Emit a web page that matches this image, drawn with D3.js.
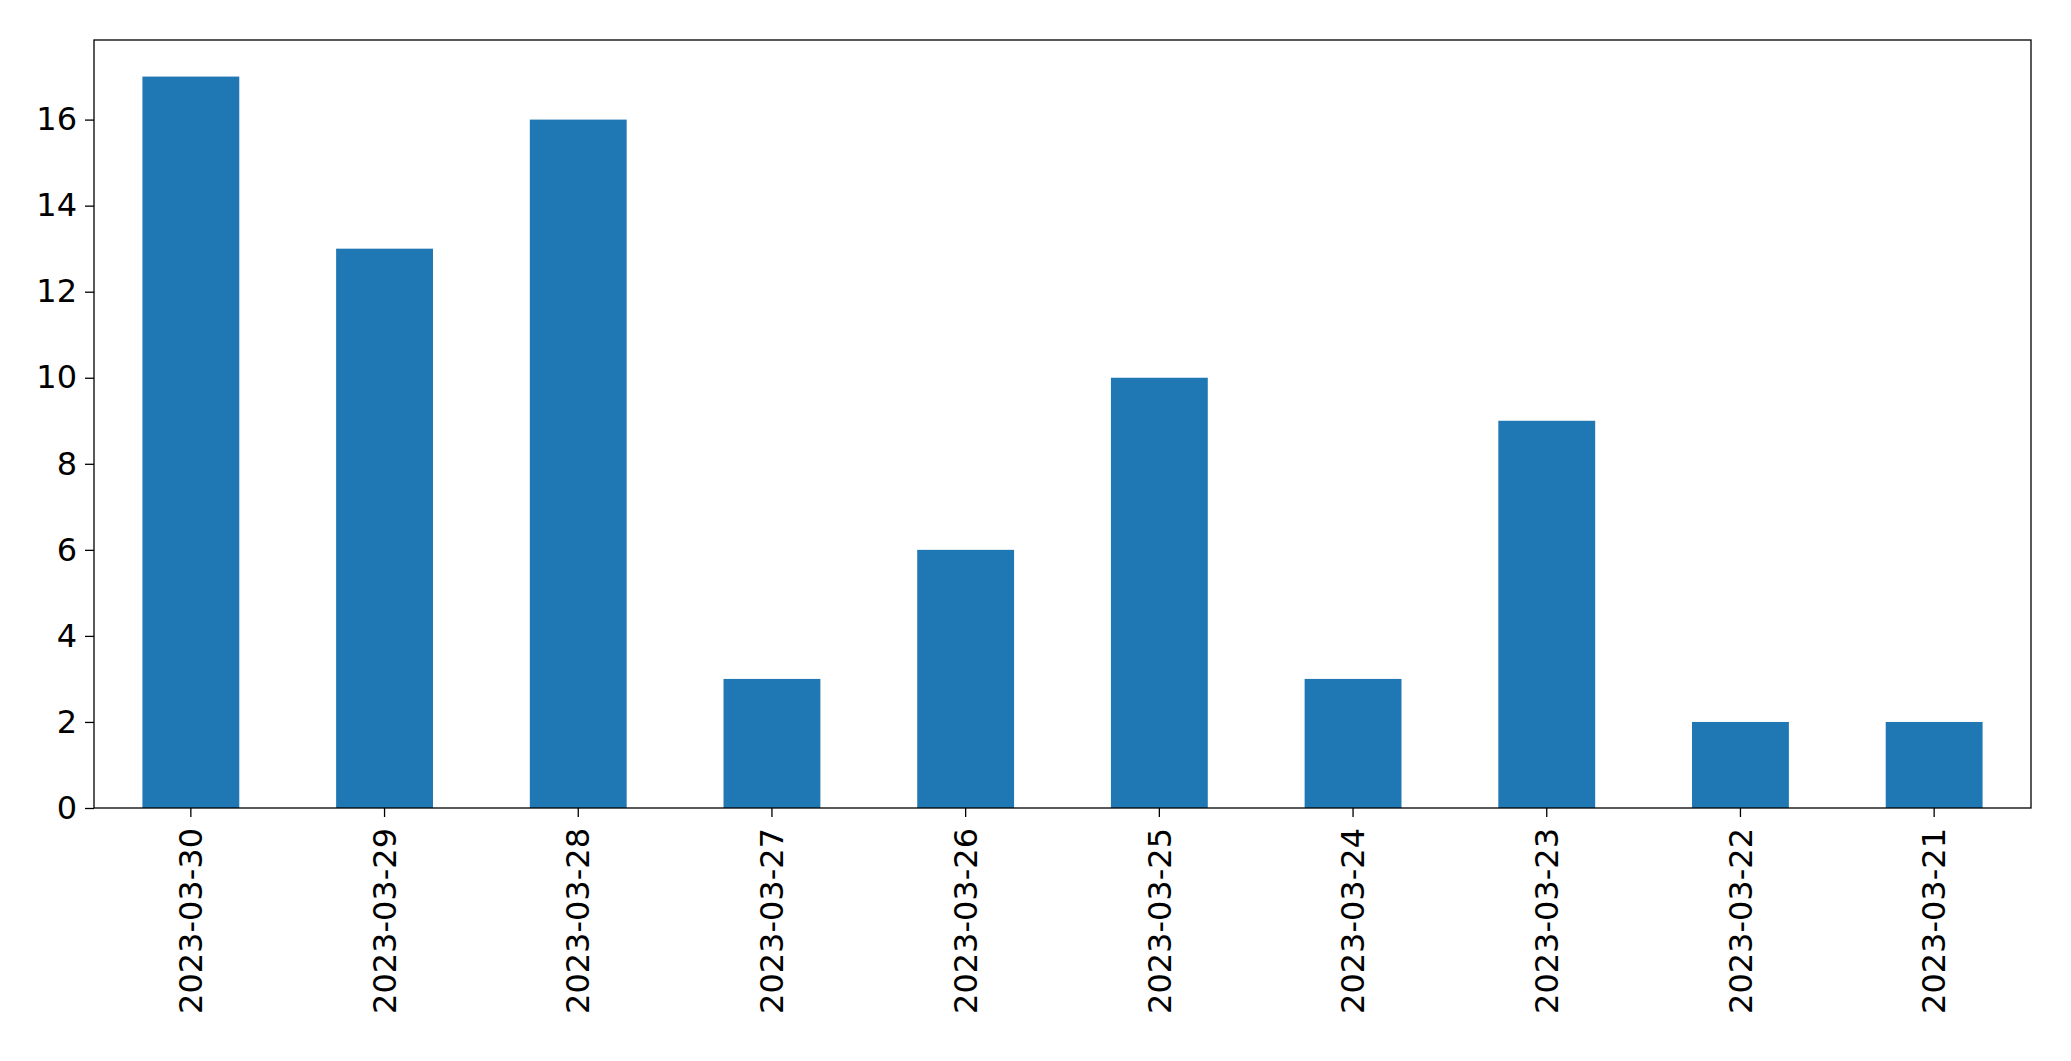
<!DOCTYPE html>
<html><head><meta charset="utf-8">
<script src="https://cdn.jsdelivr.net/npm/d3@7"></script>
<style>body{margin:0;background:#fff}</style>
</head><body>
<svg id="chart"></svg>
<script>
const dates = ["2023-03-30","2023-03-29","2023-03-28","2023-03-27","2023-03-26","2023-03-25","2023-03-24","2023-03-23","2023-03-22","2023-03-21"];
const counts = [17, 13, 16, 3, 6, 10, 3, 9, 2, 2];
const yTicks = [0, 2, 4, 6, 8, 10, 12, 14, 16];

const W = 2071, H = 1061;
const m = {left: 94, right: 40, top: 40, bottom: 253};

const svg = d3.select("#chart").attr("width", W).attr("height", H);

const x = d3.scaleBand().domain(dates)
    .range([m.left, W - m.right])
    .paddingInner(0.5).paddingOuter(0.25);
const y = d3.scaleLinear().domain([0, 17 * 1.05]).range([H - m.bottom, m.top]);

svg.append("g").selectAll("rect")
    .data(dates)
    .join("rect")
    .attr("x", d => x(d))
    .attr("y", (d, i) => y(counts[i]))
    .attr("width", x.bandwidth())
    .attr("height", (d, i) => y(0) - y(counts[i]))
    .attr("fill", "#1f77b4");

const font = "DejaVu Sans, sans-serif";

const yAxis = svg.append("g")
    .attr("transform", `translate(${m.left},0)`)
    .call(d3.axisLeft(y).tickValues(yTicks).tickSize(9).tickPadding(8));
yAxis.select(".domain").remove();
yAxis.selectAll("text").attr("font-size", 32).attr("font-family", font).attr("fill", "#000");
yAxis.selectAll("line").attr("stroke", "#000").attr("stroke-width", 1.3);

const xAxis = svg.append("g")
    .attr("transform", `translate(0,${H - m.bottom})`)
    .call(d3.axisBottom(x).tickSize(9).tickPadding(8));
xAxis.select(".domain").remove();
xAxis.selectAll("line").attr("stroke", "#000").attr("stroke-width", 1.3);
xAxis.selectAll("text")
    .attr("font-size", 32).attr("font-family", font).attr("fill", "#000")
    .attr("transform", "rotate(-90)")
    .attr("text-anchor", "end")
    .attr("x", -20).attr("y", 0).attr("dy", "0.35em");

svg.append("rect")
    .attr("x", m.left).attr("y", m.top)
    .attr("width", W - m.left - m.right)
    .attr("height", H - m.top - m.bottom)
    .attr("fill", "none").attr("stroke", "#000").attr("stroke-width", 1.3);
</script>
</body></html>
